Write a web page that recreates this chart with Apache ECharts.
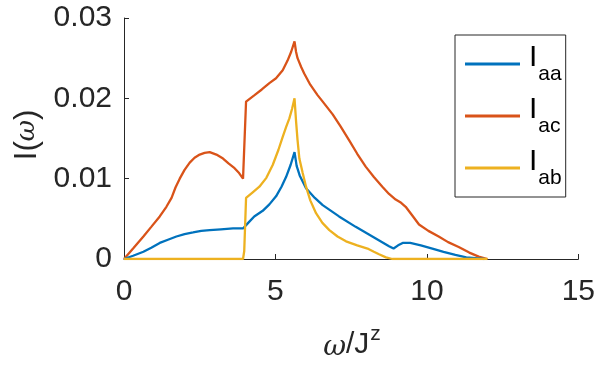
<!DOCTYPE html>
<html>
<head>
<meta charset="utf-8">
<script src="https://cdn.jsdelivr.net/npm/echarts@6/dist/echarts.min.js"></script>
<style>
    html, body { margin: 0; padding: 0; background: #fff; }
    #chart { width: 598px; height: 367px; }
</style>
</head>
<body>
<div id="chart"></div>
<script>
// 数据：ω/J^z 与 I(ω)
const xTicks = [0, 5, 10, 15];
const yTicks = [0, 0.01, 0.02, 0.03];

const seriesNames = ['aa', 'ac', 'ab'];
const seriesColors = ['#0072BD', '#D95319', '#EDB120'];

const omegaAA = [0, 0.3, 0.64, 0.9, 1.18, 1.45, 1.73, 2.0, 2.28, 2.55, 2.83, 3.2, 3.6, 3.93, 4.1, 4.3, 4.58, 4.8, 5.02, 5.2, 5.35, 5.5, 5.63, 5.7, 5.8, 6.01, 6.3, 6.56, 7.1, 7.65, 8.2, 8.75, 8.9, 9.05, 9.2, 9.45, 9.8, 10.18, 10.55, 10.94, 11.3, 11.6, 11.9];
const valueAA = [0, 0.0004, 0.0009, 0.0014, 0.0020, 0.0024, 0.0028, 0.0031, 0.0033, 0.0035, 0.0036, 0.0037, 0.0038, 0.0038, 0.0045, 0.0053, 0.0060, 0.0068, 0.0078, 0.0090, 0.0102, 0.0117, 0.0133, 0.0116, 0.0104, 0.0088, 0.0076, 0.0067, 0.0053, 0.0040, 0.0028, 0.0016, 0.0013, 0.0017, 0.0020, 0.0020, 0.0017, 0.0013, 0.0009, 0.0005, 0.0002, 0.0001, 0];

const omegaAC = [0, 0.3, 0.64, 0.9, 1.18, 1.4, 1.57, 1.7, 1.84, 2.0, 2.17, 2.33, 2.5, 2.66, 2.83, 3.05, 3.27, 3.45, 3.65, 3.8, 3.93, 4.03, 4.31, 4.55, 4.8, 5.02, 5.24, 5.4, 5.52, 5.63, 5.68, 5.73, 5.85, 5.95, 6.15, 6.39, 6.6, 6.89, 7.15, 7.43, 7.7, 7.98, 8.25, 8.53, 8.75, 8.97, 9.15, 9.3, 9.5, 9.74, 10.05, 10.39, 10.7, 11.05, 11.4, 11.71, 12.0];
const valueAC = [0, 0.0013, 0.0028, 0.0040, 0.0053, 0.0065, 0.0076, 0.0089, 0.0100, 0.0111, 0.0120, 0.0126, 0.0130, 0.0132, 0.0133, 0.0130, 0.0125, 0.0119, 0.0113, 0.0107, 0.0100, 0.0196, 0.0204, 0.0211, 0.0219, 0.0225, 0.0235, 0.0247, 0.0258, 0.0271, 0.0258, 0.0250, 0.0239, 0.0231, 0.0217, 0.0204, 0.0194, 0.0180, 0.0165, 0.0148, 0.0131, 0.0115, 0.0102, 0.0090, 0.0081, 0.0074, 0.0070, 0.0065, 0.0055, 0.0043, 0.0035, 0.0028, 0.0021, 0.0015, 0.0008, 0.0003, 0];

const omegaAB = [0, 3.93, 3.97, 4.03, 4.25, 4.47, 4.7, 4.91, 5.1, 5.24, 5.36, 5.46, 5.55, 5.63, 5.68, 5.73, 5.79, 5.9, 6.01, 6.15, 6.34, 6.55, 6.78, 7.05, 7.33, 7.7, 8.04, 8.25, 8.42, 8.65, 8.86, 12.0];
const valueAB = [0, 0, 0.0010, 0.0076, 0.0083, 0.0090, 0.0101, 0.0117, 0.0136, 0.0152, 0.0165, 0.0175, 0.0187, 0.0200, 0.0172, 0.0148, 0.0125, 0.0107, 0.0090, 0.0073, 0.0057, 0.0045, 0.0036, 0.0028, 0.0022, 0.0017, 0.0013, 0.0009, 0.0006, 0.0002, 0, 0];

const axisColor = '#262626';
const fontFamily = 'Liberation Sans, Arial, sans-serif';

const zip = (xs, ys) => xs.map((x, i) => [x, ys[i]]);
const dataSets = [zip(omegaAA, valueAA), zip(omegaAC, valueAC), zip(omegaAB, valueAB)];

const chart = echarts.init(document.getElementById('chart'));

chart.setOption({
    animation: false,
    grid: { left: 124, right: 18, top: 18, bottom: 108 },
    xAxis: {
        type: 'value',
        min: xTicks[0],
        max: xTicks[xTicks.length - 1],
        interval: 5,
        axisLine: { lineStyle: { color: axisColor, width: 1 } },
        axisTick: { inside: true, length: 5, lineStyle: { color: axisColor } },
        axisLabel: { color: axisColor, fontSize: 30, fontFamily, margin: 18 },
        splitLine: { show: false }
    },
    yAxis: {
        type: 'value',
        min: yTicks[0],
        max: yTicks[yTicks.length - 1],
        interval: 0.01,
        axisLine: { show: true, lineStyle: { color: axisColor, width: 1 } },
        axisTick: { show: true, inside: true, length: 5, lineStyle: { color: axisColor } },
        axisLabel: {
            color: axisColor, fontSize: 30, fontFamily, margin: 12,
            formatter: v => (v === 0 ? '0' : v.toFixed(2))
        },
        splitLine: { show: false }
    },
    legend: {
        orient: 'vertical',
        left: 455,
        top: 35,
        padding: [8, 4, 8, 10],
        itemGap: 10,
        itemWidth: 55,
        itemHeight: 3,
        icon: 'rect',
        borderColor: axisColor,
        borderWidth: 1,
        backgroundColor: '#fff',
        borderRadius: 0,
        data: seriesNames.map(n => 'I' + n),
        formatter: name => `{i|I}{s|${name.slice(1)}}`,
        textStyle: {
            padding: [0, 0, 0, 4],
            rich: {
                i: { fontSize: 30, lineHeight: 30, fontFamily, color: '#000', verticalAlign: 'top', padding: [0, 1, 0, 0] },
                s: { fontSize: 21, fontFamily, color: '#000', verticalAlign: 'bottom', padding: [21, 0, 0, 0] }
            }
        }
    },
    graphic: [
        {
            type: 'text',
            x: 27, y: 135,
            rotation: Math.PI / 2,
            style: {
                text: '{n|I(}{w|ω}{n|)}',
                align: 'center',
                verticalAlign: 'middle',
                rich: {
                    n: { fontSize: 31, fontFamily, fill: axisColor },
                    w: { fontSize: 26, fontFamily: 'DejaVu Serif', fontStyle: 'italic', fill: axisColor }
                }
            }
        },
        {
            type: 'text',
            x: 352, y: 345,
            style: {
                text: '{w|ω}{n|/J}{z|z}',
                align: 'center',
                verticalAlign: 'middle',
                rich: {
                    w: { fontSize: 28, fontFamily: 'DejaVu Serif', fontStyle: 'italic', fill: axisColor, padding: [6, 0, 0, 0] },
                    n: { fontSize: 30, fontFamily, fill: axisColor },
                    z: { fontSize: 21, fontFamily, fill: axisColor, padding: [0, 0, 22, 1] }
                }
            }
        }
    ],
    series: seriesNames.map((n, i) => ({
        name: 'I' + n,
        type: 'line',
        data: dataSets[i],
        showSymbol: false,
        symbol: 'none',
        lineStyle: { width: 2.3, color: seriesColors[i] },
        itemStyle: { color: seriesColors[i] },
        z: i === 1 ? 2 : (i === 0 ? 3 : 4)
    }))
});
</script>
</body>
</html>
